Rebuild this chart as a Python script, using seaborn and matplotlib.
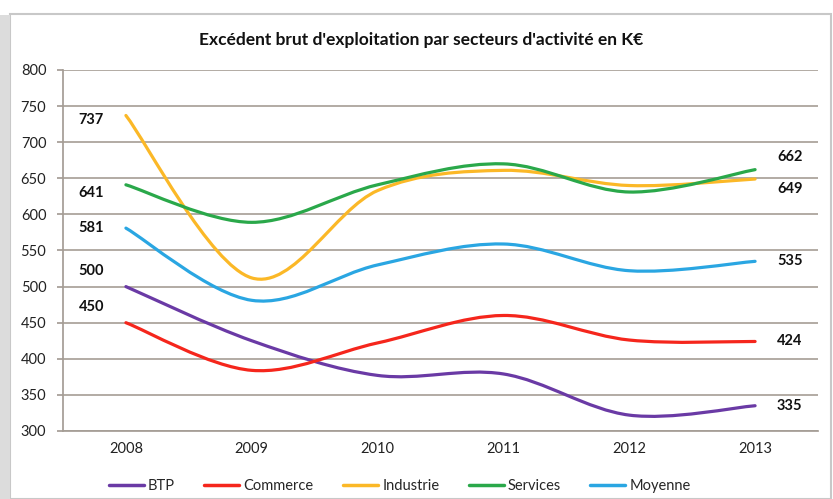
import numpy as np
import pandas as pd
import matplotlib
matplotlib.use("Agg")
import matplotlib.pyplot as plt
import seaborn as sns
from matplotlib import font_manager
from matplotlib.path import Path
from matplotlib.patches import PathPatch, Rectangle
from matplotlib.lines import Line2D

years = ["2008", "2009", "2010", "2011", "2012", "2013"]
btp = [500, 425, 377, 379, 322, 335]
commerce = [450, 384, 422, 460, 426, 424]
industrie = [737, 512, 633, 661, 640, 649]
services = [641, 589, 641, 670, 631, 662]
moyenne = [581, 481, 530, 559, 522, 535]
series_names = ["BTP", "Commerce", "Industrie", "Services", "Moyenne"]
series_values = [btp, commerce, industrie, services, moyenne]
colors = ["#6a3aa5", "#f5261c", "#fbb827", "#2aa84a", "#2aa6e2"]
title = "Excédent brut d'exploitation par secteurs d'activité en K€"

rows = []
for name, vals in zip(series_names, series_values):
    for i, v in enumerate(vals):
        rows.append({"x": i, "year": years[i], "value": v, "serie": name})
df = pd.DataFrame(rows)

sns.set_theme(style="white")
available = {f.name for f in font_manager.fontManager.ttflist}
main_font = "Liberation Sans Narrow" if "Liberation Sans Narrow" in available else "Lato"
plt.rcParams["font.family"] = [main_font, "DejaVu Sans"]

fig = plt.figure(figsize=(8.33, 4.99), dpi=100)
fig.patch.set_facecolor("white")
fig.add_artist(Rectangle((0.012, 0.0), 0.985, 0.972, transform=fig.transFigure,
                         fill=False, edgecolor="#c8c8c8", lw=1.5))
fig.add_artist(Rectangle((0.0, 0.0), 0.012, 0.97, transform=fig.transFigure,
                         facecolor="#dcdcdc", edgecolor="none"))

ax = fig.add_axes([63 / 833, 1 - 431 / 499, (818 - 63) / 833, (431 - 70) / 499])
palette = dict(zip(series_names, colors))
sns.lineplot(data=df, x="x", y="value", hue="serie", palette=palette,
             linewidth=2.3, ax=ax, legend=False, sort=False)

# Excel-like smoothing: cubic Bezier curves through the data points
for line, col in zip(ax.get_lines(), colors):
    xs, ys = np.asarray(line.get_xdata(), float), np.asarray(line.get_ydata(), float)
    P = np.column_stack([xs, ys])
    n = len(P)
    verts = [P[0]]
    codes = [Path.MOVETO]
    for i in range(n - 1):
        p0 = P[i - 1] if i > 0 else P[i]
        p3 = P[i + 2] if i + 2 < n else P[i + 1]
        c1 = P[i] + (P[i + 1] - p0) / 6.0
        c2 = P[i + 1] - (p3 - P[i]) / 6.0
        verts += [c1, c2, P[i + 1]]
        codes += [Path.CURVE4] * 3
    line.set_visible(False)
    ax.add_patch(PathPatch(Path(verts, codes), facecolor="none", edgecolor=col,
                           lw=2.3, capstyle="round", joinstyle="round", zorder=3))

# data labels (vertical offsets in points)
first_off = {"BTP": 11.5, "Commerce": 11, "Industrie": -3, "Services": -6, "Moyenne": 0}
last_off = {"BTP": 0, "Commerce": 0, "Industrie": -7, "Services": 9, "Moyenne": 0}
for name, vals in zip(series_names, series_values):
    ax.annotate(str(vals[0]), (0, vals[0]), xytext=(-25, first_off[name]),
                textcoords="offset points", ha="center", va="center",
                fontsize=10.5, fontweight="bold", color="#111111")
    ax.annotate(str(vals[-1]), (5, vals[-1]), xytext=(25, last_off[name]),
                textcoords="offset points", ha="center", va="center",
                fontsize=10.5, fontweight="bold", color="#111111")

ax.set_xlim(-0.5, 5.5)
ax.set_ylim(300, 800)
ax.set_yticks(range(300, 801, 50))
ax.set_xticks(range(len(years)))
ax.set_xticklabels(years)
ax.set_xlabel("")
ax.set_ylabel("")
ax.grid(axis="y", color="#a59d95", lw=1.2)
ax.grid(axis="x", visible=False)
ax.set_axisbelow(True)
for s in ["top", "right"]:
    ax.spines[s].set_visible(False)
ax.spines["left"].set_color("#a59d95")
ax.spines["bottom"].set_color("#a59d95")
ax.tick_params(axis="both", labelsize=10.5, colors="#222222", length=0, pad=8)
ax.set_facecolor("white")

ax.set_xticks(np.arange(-0.5, 5.6, 1), minor=True)
ax.tick_params(axis="x", which="minor", length=4, color="#a59d95")
ax.tick_params(axis="y", which="major", length=4, color="#a59d95", left=True)

fig.text(0.505, 1 - 40 / 499, title, ha="center", va="center", fontsize=12.5,
         fontweight="bold", color="#111111")

handles = [Line2D([0], [0], color=c, lw=2.5) for c in colors]
fig.legend(handles, series_names, loc="center", bbox_to_anchor=(0.48, 1 - 486 / 499),
           ncol=5, frameon=False, fontsize=10.5, handlelength=2.4, columnspacing=2.0,
           handletextpad=0.3)

fig.savefig("out.png", dpi=100, facecolor="white")
